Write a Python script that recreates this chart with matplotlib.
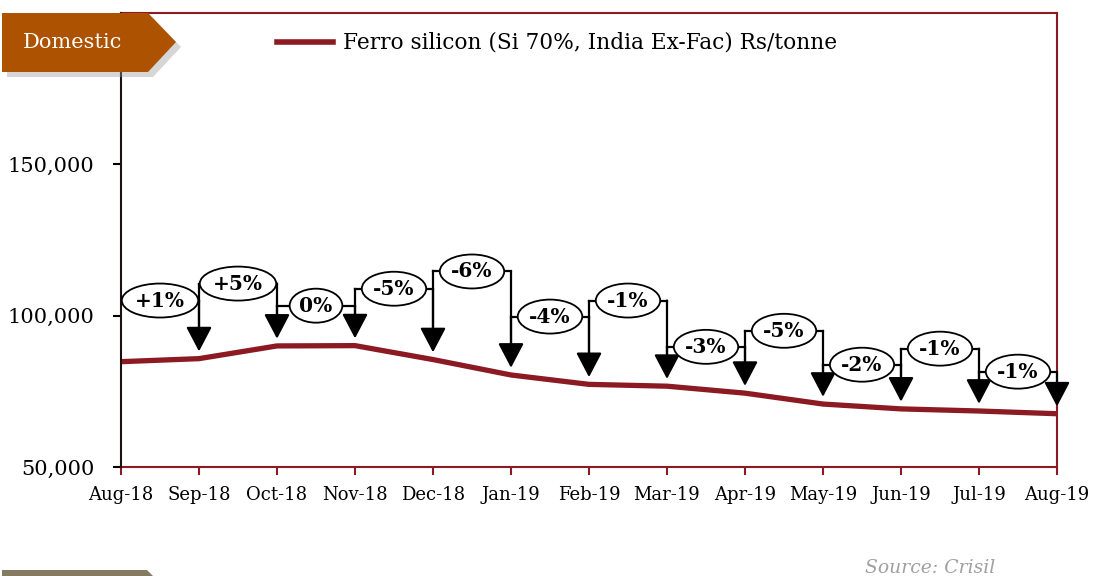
import matplotlib
matplotlib.use("Agg")
import matplotlib.pyplot as plt
from matplotlib.patches import Polygon
from matplotlib.ticker import FuncFormatter

# ---- data ----
months = ["Aug-18", "Sep-18", "Oct-18", "Nov-18", "Dec-18", "Jan-19", "Feb-19",
          "Mar-19", "Apr-19", "May-19", "Jun-19", "Jul-19", "Aug-19"]
price = [84800, 85800, 90000, 90100, 85500, 80400, 77300,
         76700, 74400, 70800, 69200, 68500, 67600]
change_labels = ["+1%", "+5%", "0%", "-5%", "-6%", "-4%", "-1%",
                 "-3%", "-5%", "-2%", "-1%", "-1%"]
callout_levels = [105000, 110600, 103300, 108900, 114600, 99700, 105000,
                  89700, 95000, 83800, 89100, 81500]
yticks = [50000, 100000, 150000]
series_name = "Ferro silicon (Si 70%, India Ex-Fac) Rs/tonne"

W, H = 1093, 576
fig = plt.figure(figsize=(W / 100, H / 100), dpi=100)
fig.patch.set_facecolor("white")

RED = "#8B1A23"
SERIF = ["DejaVu Serif"]

ax = fig.add_axes([121 / W, 1 - 467 / H, (1057 - 121) / W, (467 - 13) / H])
x = list(range(len(months)))
ax.plot(x, price, color=RED, lw=3.8, solid_capstyle="butt", zorder=3)
ax.set_xlim(0, len(months) - 1)
ax.set_ylim(50000, 200000)
ax.set_xticks(x)
ax.set_xticklabels(months, fontfamily=SERIF, fontsize=13)
ax.set_yticks(yticks)
ax.yaxis.set_major_formatter(FuncFormatter(lambda v, p: f"{int(v):,}"))
for lab in ax.get_yticklabels():
    lab.set_fontfamily(SERIF)
    lab.set_fontsize(15)
ax.tick_params(axis="x", direction="out", length=6, width=1.5, color=RED, pad=8)
ax.tick_params(axis="y", direction="out", length=6, width=1.5, color="black", pad=13)
for side in ["top", "right", "bottom"]:
    ax.spines[side].set_color(RED)
    ax.spines[side].set_linewidth(1.5)
ax.spines["left"].set_color("#1a1010")
ax.spines["left"].set_linewidth(1.5)
ax.spines["left"].set_zorder(5)

# ---- change callouts ----
gap = 2400
for i, (lab, lvl) in enumerate(zip(change_labels, callout_levels)):
    tip = price[i + 1] + gap
    ax.plot([i, i + 1], [lvl, lvl], color="black", lw=1.6, zorder=4)
    if i > 0:
        ax.plot([i, i], [lvl, price[i] + gap + 3000], color="black", lw=1.6, zorder=4)
    ax.annotate("", xy=(i + 1, tip), xytext=(i + 1, lvl),
                arrowprops=dict(arrowstyle="-|>,head_length=0.8,head_width=0.42",
                                color="black", lw=1.6, shrinkA=0, shrinkB=0,
                                mutation_scale=19),
                zorder=4, annotation_clip=False)
    ax.text(i + 0.5, lvl, lab, ha="center", va="center", fontsize=14.5,
            fontweight="bold", fontfamily=SERIF, zorder=6,
            bbox=dict(boxstyle="ellipse,pad=0.1", fc="white", ec="black", lw=1.3))

# ---- legend ----
overlay = fig.add_axes([0, 0, 1, 1], zorder=10)
overlay.set_xlim(0, W)
overlay.set_ylim(H, 0)
overlay.axis("off")
overlay.plot([277, 333], [42, 42], color=RED, lw=4)
overlay.text(343, 43, series_name, fontfamily=SERIF, fontsize=15.6,
             va="center", ha="left", color="black")

# ---- "Domestic" tag ----
shape = [(2, 13), (148, 13), (176, 42), (148, 72), (2, 72)]
shadow = [(px + 5, py + 5) for px, py in shape]
overlay.add_patch(Polygon(shadow, closed=True, fc="#999999", ec="none", alpha=0.4))
overlay.add_patch(Polygon(shape, closed=True, fc="#AD5200", ec="none"))
overlay.text(72, 43, "Domestic", color="white", fontfamily=SERIF, fontsize=15,
             ha="center", va="center")

# bottom tag (partially visible)
overlay.add_patch(Polygon([(2, 570), (147, 570), (153, 576), (2, 576)],
                          closed=True, fc="#857B63", ec="none"))

# source
overlay.text(995, 568, "Source: Crisil", color="#A0A0A0", fontfamily=SERIF,
             fontstyle="italic", fontsize=13.5, ha="right", va="center")

fig.savefig("out.png", dpi=100)
